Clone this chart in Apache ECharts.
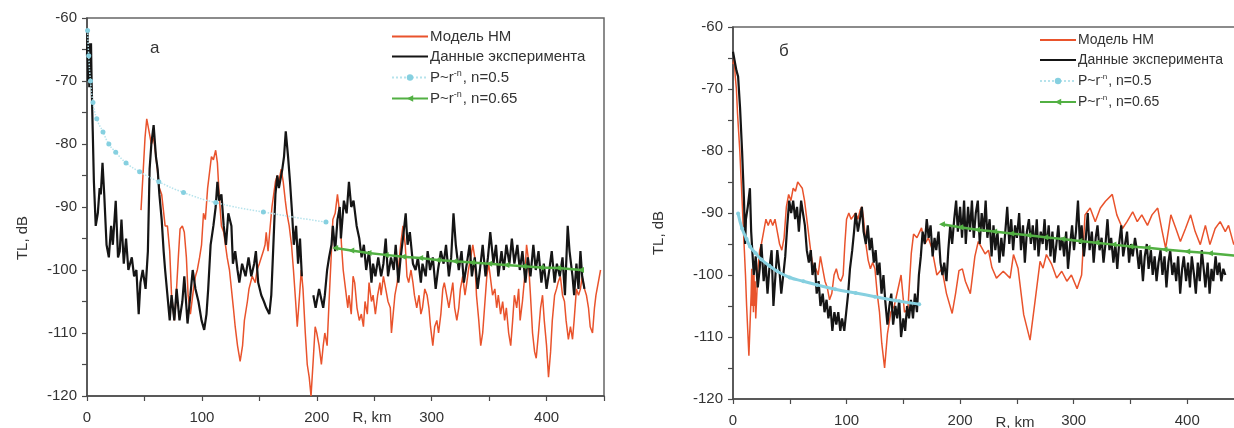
<!DOCTYPE html>
<html><head><meta charset="utf-8">
<script src="https://cdn.jsdelivr.net/npm/echarts@6/dist/echarts.min.js"></script>
<style>html,body{margin:0;padding:0;background:#fff;overflow:hidden}#c{width:1250px;height:428px}</style>
</head><body><div id="c"></div>
<script>
// ---------- Panel "а" ----------
const leftModelR = [47,49,50.5,52,54,56,58,60,63,65,68,70,72,73.6,76,77,79.5,81,83,84.7,86.5,88,90,92.7,94.4,96,98,99.7,101.4,103,105,107,108.3,110,112,113.5,115,117,119,120.5,122,124,125.7,127.4,129,131,133.3,135.4,137,139.6,141,143.8,146.5,148,150,151.7,153.5,155,156,157.6,159,161,162.5,164,165.6,167,169,170.8,172.6,174,176,178,179.7,181.6,183,185,186.5,188,190,191.7,193.4,195,197,198.6,200,202,204,205.6,207,209,210.7,212.5,214,216,218,220,221.5,223,225,227,228,230,231.6,233,235,237,238.8,240.6,242,244,245.5,247.6,249,251,253,255,256,258,260,262,264,265,266,268,270,271.5,273,275,277,278.5,280,282,283.7,285,287,289,290.6,292,294,296,297.6,299,301,302.6,304.5,306,308,309.7,311,313,315,316.7,318.4,320,321.9,323.6,325,327,329,330.6,332,334,335.8,337.5,339,341,342.7,344.4,346,348,349.6,351,353,355,356.6,358,360,361.8,363.5,365,367,368.8,370.5,372,374,375.7,377,379,381,382.6,384,386,387.8,389.6,391,393,394.8,396.5,398,400,401.7,403.5,405,407,408.7,410,412,413.9,415.6,417,419,420.8,422.6,424,426,427.8,429.5,431,433,434.7,436.5,438,440,441.7,443,445,447];
const leftModelTL = [-90.5,-84,-79,-76,-78,-80,-79,-82,-87,-88,-93,-93,-97,-104,-108,-106,-98,-93.5,-93,-94,-98,-104,-107,-103,-101,-100,-98,-96,-91,-92,-87,-84,-82,-82.5,-81,-83,-88,-93,-94,-96,-98,-100,-103,-106,-109,-112,-114.5,-112,-108,-105,-103,-101,-102,-100,-99,-99,-97,-96,-94,-97,-94,-90,-88,-86,-85,-86,-84,-86,-89,-91,-93,-96,-100,-105,-109,-104,-100,-103,-110,-115,-117,-120,-114,-109,-110,-112,-115,-112,-110,-112,-105,-98,-92,-91,-88,-91,-96,-100,-103,-106,-104,-107,-101,-102,-106,-108,-107,-109,-105,-107,-102,-105,-104,-107,-104,-102,-104,-101,-103,-105,-106,-110,-108,-104,-102,-99,-96,-93,-96,-101,-102,-100,-102,-104,-106,-104,-107,-106,-103,-104,-106,-109,-112,-109,-108,-110,-107,-103,-102,-104,-106,-104,-102,-106,-108,-106,-103,-101,-104,-102,-100,-98,-96,-98,-104,-108,-112,-110,-106,-101,-99,-101,-104,-103,-106,-104,-107,-105,-108,-106,-110,-112,-108,-104,-106,-103,-108,-105,-101,-96,-98,-104,-110,-113,-114,-110,-106,-104,-108,-112,-117,-113,-108,-104,-103,-102,-101,-104,-105,-108,-111,-109,-111,-108,-103,-104,-103,-101,-103,-104,-106,-109,-110,-106,-104,-102,-100];

const leftExpR = [0,0.5,1,1.5,2,2.5,3,3.5,4,5,6,7.6,9.4,11,12,13.5,15,17,19,21,22.5,25,27,28.5,30,32,34,36,39,41,43,45,46.5,48.5,51,53,54.5,56,58,60,61.5,63,65,66.7,68,70,72,73.6,76,78,80.5,83,84.7,87.5,90,92,94.4,97,99.7,102,104,105.5,107.6,110,112,113.5,115,117,119,121,123,125.7,127,129,131,132.6,135,138,140.6,143,145.5,147,149,151.7,154,156,158.7,160.4,162,164,165.6,167,170,171.5,173,175,176.7,178.5,180,182,183.7,185.4,187,192,197,199,202,205.6,207,209,210.7,212.8,214,216,218,220,221,223.6,226,228,230,232,234.7,237,239,241,243,245.5,247.6,249,251,253.5,256,258,260,262,264.6,267,268.7,271,273,275,277.4,279,281,283.7,286,288,290.6,292,294.8,296.5,298.6,301,303.5,305.5,308,310.4,312.5,315,317,319,321,323.6,326,328,330.6,333,335,337.5,340,342,344.4,346.9,349,351,353.8,356,358,360.8,362.8,365,367.7,369.8,372,374.6,376.7,379,381.6,383.7,386,388.5,390.6,393,395.5,397.6,400,402.4,404.5,407,409,411.5,413.9,416,418.4,420,422.6,424,426,427.8,429.5,431,433];
const leftExpTL = [-66,-62,-70,-64,-71,-66,-69,-64,-70,-78,-86,-93,-91,-87,-88,-83,-88,-96,-98,-93,-96,-89,-98,-97,-92,-99,-95,-100,-98,-101,-100,-107,-102,-100,-103,-97,-84,-80,-77,-82,-84,-88,-92,-97,-100,-104,-108,-104,-108,-103,-108,-105,-101,-108.5,-104,-100,-103,-105,-108,-109.5,-107,-103,-96,-93,-90,-86,-89,-88,-93,-96,-91,-93,-99,-97,-100,-102,-99,-101,-98,-101,-99,-97,-102,-104,-105,-106,-107,-104,-97,-88,-85,-87,-84,-82,-78,-82,-86,-91,-96,-93,-99,-95,-101,null,-104,-106,-103,-106,-104,-100,-98,-96,-93,-97,-92,-90,-95,-89,-91,-86,-90,-89,-93,-95,-98,-96,-100,-97,-102,-99,-101,-98,-101,-99,-95,-101,-98,-100,-96,-102,-98,-95,-91,-96,-94,-99,-100,-98,-102,-99,-101,-97,-100,-98,-103,-100,-97,-99,-96,-101,-98,-91,-96,-100,-97,-102,-99,-96,-101,-98,-103,-100,-96,-101,-98,-94,-99,-96,-101,-97,-100,-96,-99,-95,-99,-96,-100,-97,-102,-98,-101,-96,-100,-97,-102,-99,-103,-100,-97,-102,-99,-101,-98,-104,-93,-97,-101,-104,-99,-103,-97,-101,-103];

const leftFit05R  = [0.5,1.5,3,5.2,8.5,13.9,19,25,34,45.8,62.5,84,112,153.5,208];
const leftFit05TL = [-62,-66,-70,-73.4,-76,-78.1,-80,-81.3,-83,-84.4,-86,-87.7,-89.3,-90.8,-92.4];

const leftFit065R  = [216,230,245,260,275,290,305,320,335,350,365,380,395,410,430];
const leftFit065TL = [-96.5,-96.9,-97.3,-97.6,-97.9,-98.1,-98.4,-98.6,-98.8,-99.0,-99.2,-99.4,-99.6,-99.7,-100.0];

// ---------- Panel "б" ----------
const rightModelR = [0,1,2,3,4,5,6,7,8,9,10,11,12,13,14,15,16,16.5,17,17.5,18,18.5,19,19.5,20,21,22,23.5,25,27,29,31,33,35,37,39,41,43,45,47,49,51,53,55,57,59,61,63,65,67,69,71,73,75,77,79,81,83,85,87,89,91,93,95,97,98.5,100,102,104,106,108,110,112,113.5,115,117,119,121,123,125,127,129,131,133.5,136,139,142,145,148,151,154,157,159,162,166,169,172,175,179.5,184,188,193,196,199,202,204.6,209,213,216,219,222,225,228,232,238,244,247,251,256,261.6,266,270.4,273,276,280.7,285,289.5,294,298,303,307,310,314.5,319,323.5,328,334,338,343,347,352,356,360,365,369,374,378,381,385.6,390,394,398.5,403,407,411.5,416,420,424.6,429,433.5,436.4,441,445,450];
const rightModelTL = [-66,-65,-68,-70,-74,-77,-80,-84,-88,-92,-96,-100,-105,-109,-113,-108,-103,-99,-105,-100,-106,-100,-105,-101,-107,-103,-99,-96,-95,-93,-91,-92,-91,-92,-91,-93,-95,-96,-94,-89,-87,-88,-86,-86.5,-85,-85.5,-86,-88,-91,-94,-97,-99,-99,-100,-97,-99,-101,-102,-104,-103,-100,-99,-100.5,-101,-100,-95,-91,-90,-91,-90.5,-90,-91,-89.5,-89,-91,-95,-97.6,-99,-98,-99,-103,-106,-111,-115,-109.5,-106,-105,-102.5,-100,-106,-105.5,-96.5,-93.4,-94,-92.4,-95,-94,-95.6,-100,-99,-103,-106.2,-103,-99.3,-99,-101,-103,-97,-94.6,-95.6,-96.6,-96,-98.8,-100.5,-99.4,-100.5,-96.7,-98.9,-106.4,-110.5,-104.2,-97.8,-98.9,-96.7,-98.3,-100.5,-99.4,-101,-100,-102.2,-100,-90.3,-89.2,-91.4,-89.2,-88.1,-87,-90.3,-92.5,-91.4,-89.8,-91.4,-90.3,-92,-90.3,-89.2,-93,-95.7,-90.3,-92.5,-94.6,-92.5,-90.3,-93,-95.1,-92,-95.1,-92.5,-91.4,-93,-92,-95.1,-93,-94];

const rightExpR = [0,1,2,3,4.5,6.2,8,9.7,10.7,11.4,13,14.9,16,17.3,18.3,20,21.8,23.5,25,27,28.7,30.4,32,34,35.6,37.4,39,40.8,42.5,44.3,46,47.8,49.5,51.2,53,54.7,56.4,58,60,61.6,63.3,65,66.8,68.5,70,72,73.7,75.4,77,79,80.6,82.4,84,85.8,87.5,89.3,91,92.7,94.5,96,98,99.7,101.4,103,105,106.6,108,110,111.8,113.5,115,117,118.7,120.4,122,124,125.6,127.3,129,130.8,132.5,134,136,137.7,139.4,141,143,144.6,146.4,148,150,151.6,153.3,155,156.7,158.5,160.2,162,163.7,165.4,167,168.9,170.6,172.3,174,175.8,177.5,179,181,182.7,184.4,186,188,189.6,191.3,193,194.8,196.5,198,200,201.7,203.5,205,207,208.7,210.4,212,213.8,215.6,217.3,219,220.8,222.5,224,226,227.7,229.4,231,232.9,234.6,236.3,238,239.8,241.5,243.3,245,246.7,248.4,250,252,253.6,255.4,257,258.8,260.6,262.3,264,265.7,267.5,269,271,272.7,274.4,276,278,279.6,281.3,283,284.8,286.5,288,290,291.6,293.4,295,296.9,298.6,300.3,302,303.8,305.5,307,309,310.7,312.4,314,316,317.6,319.4,321,322.8,324.6,326.3,328,329.8,331.5,333,335,336.7,338.4,340,341.9,343.6,345.3,347,348.8,350.5,352,354,355.7,357.4,359,361,362.6,364.4,366,368,369.6,371.3,373,374.7,376.5,378.2,380,381.7,383.4,385,386.9,388.6,390.3,392,393.8,395.5,397,399,400.7,402.4,404,406,407.6,409.3,411,412.8,414.5,416,418,419.7,421.4,423,425,426.6,428.3,430,431.8,433.6];
const rightExpTL = [-64,-65,-66,-67,-68,-73,-80,-88,-95,-91,-89,-86,-93,-97,-100,-97,-102,-99,-95,-101,-98,-103,-99,-96,-105,-100,-96,-99,-103,-100,-97,-92,-88,-90,-88,-91,-89,-93,-88,-90,-92,-96,-98,-96,-100,-98,-103,-101,-105,-103,-106,-104,-107,-105,-109,-106,-108,-106,-109,-107,-109,-106,-103,-99,-96,-93,-90,-93,-91,-89,-93,-95,-92,-96,-94,-98,-96,-100,-98,-103,-100,-104,-108,-105,-103,-108,-105,-107,-104,-110,-107,-109,-105,-107,-104,-107,-103,-106,-100,-97,-93,-95,-91,-94,-92,-97,-94,-96,-93,-98,-100,-98,-101,-96,-92,-95,-91,-88,-93,-89,-94,-88,-95,-89,-93,-88,-94,-90,-88,-95,-90,-93,-88,-94,-91,-97,-92,-96,-93,-98,-94,-97,-93,-89,-95,-91,-96,-92,-94,-90,-96,-92,-98,-93,-91,-95,-92,-96,-91,-97,-93,-95,-91,-96,-92,-97,-93,-98,-95,-92,-96,-94,-97,-93,-99,-95,-92,-96,-93,-88,-95,-92,-97,-94,-90,-96,-93,-98,-94,-92,-96,-94,-98,-95,-91,-96,-94,-98,-95,-99,-95,-92,-97,-95,-93,-98,-95,-97,-94,-96,-99,-96,-101,-97,-95,-99,-96,-100,-97,-101,-98,-96,-100,-97,-102,-98,-96,-100,-98,-101,-97,-103,-99,-97,-101,-98,-102,-97,-100,-103,-98,-101,-96,-99,-102,-98,-103,-99,-101,-97,-100,-98,-101,-99,-100];

const rightFit05R  = [4.5,8,12,15,20,25,32,39,50,62,74,90,108,125,143,164];
const rightFit05TL = [-90.1,-92.5,-94.2,-95.4,-96.5,-97.5,-98.5,-99.4,-100.4,-101,-101.6,-102.3,-102.9,-103.5,-104.1,-104.7];

const rightFit065R  = [184,200,215,230,245,260,275,290,305,320,335,350,365,380,400,420,450];
const rightFit065TL = [-91.8,-92.3,-92.7,-93.0,-93.3,-93.6,-93.9,-94.2,-94.5,-94.8,-95.1,-95.4,-95.6,-95.9,-96.2,-96.5,-97.0];

const seriesNames = ['Модель НМ','Данные эксперимента','P~r^-n, n=0.5','P~r^-n, n=0.65'];
const xTickStep = 50, yTickStep = 5;

// ---------- build ----------
const zip = (r, t) => r.map((x, i) => [x, t[i] === null ? '-' : t[i]]);
const FONT = '"Liberation Sans", Arial, sans-serif';
const axisCol = '#4a4a4a';
const RED = '#e9532c', BLACK = '#151515', CYAN = '#86d0e0', GREEN = '#52b043';

function xAx(g){ return {type:'value', gridIndex:g, min:0, max:450, interval:xTickStep,
  axisLine:{lineStyle:{color:axisCol,width:1.5}}, axisTick:{length:5,lineStyle:{color:axisCol,width:1.2}},
  axisLabel:{formatter:v=> v%100===0 ? String(v) : '', margin:14, fontSize:15, color:'#333', fontFamily:FONT},
  splitLine:{show:false}}; }
function yAx(g){ return {type:'value', gridIndex:g, min:-120, max:-60, interval:yTickStep,
  axisLine:{onZero:false,lineStyle:{color:axisCol,width:1.5}}, axisTick:{length:5,lineStyle:{color:axisCol,width:1.2}},
  axisLabel:{formatter:v=> v%10===0 ? String(v) : '', margin:10, fontSize:15, color:'#333', fontFamily:FONT},
  splitLine:{show:false}}; }

function legendFmt(name){
  if (name.indexOf('P~r') === 0) {
    const rest = name.split(',')[1];
    return '{b|P~r}{s|-n}{b|,' + rest + '}';
  }
  return '{b|' + name + '}';
}
function legend(left, top, fs, gap){
  return {left:left, top:top, orient:'vertical', itemWidth:36, itemHeight:8, itemGap:gap,
    data:seriesNames.map((n,i)=> i<2 ? {name:n, itemStyle:{opacity:0}} : {name:n}),
    selectedMode:false, formatter:legendFmt,
    textStyle:{fontFamily:FONT, color:'#333', fontSize:fs, padding:[0,0,0,-3],
      rich:{b:{fontSize:fs, fontFamily:FONT, color:'#333'}, s:{fontSize:Math.round(fs*0.6), fontFamily:FONT, color:'#333', verticalAlign:'top', padding:[0,1,8,0]}}}};
}

const option = {
  animation:false, backgroundColor:'#fff',
  grid:[{left:87, top:18, width:517, height:378, show:true, borderColor:'#666', borderWidth:1.5, backgroundColor:'transparent'},
        {left:733, top:27, width:511, height:373, show:true, borderColor:'#666', borderWidth:1.5, backgroundColor:'transparent'}],
  xAxis:[xAx(0), xAx(1)],
  yAxis:[yAx(0), yAx(1)],
  legend:[legend(386, 24, 15, 5), legend(1034, 28, 14, 6)],
  series:[
    {name:seriesNames[0], type:'line', xAxisIndex:0, yAxisIndex:0, data:zip(leftModelR,leftModelTL), symbol:'none', lineStyle:{color:RED,width:1.5}, itemStyle:{color:RED}},
    {name:seriesNames[1], type:'line', xAxisIndex:0, yAxisIndex:0, data:zip(leftExpR,leftExpTL), symbol:'none', lineStyle:{color:BLACK,width:2.2}, itemStyle:{color:BLACK}},
    {name:seriesNames[2], type:'line', xAxisIndex:0, yAxisIndex:0, data:zip(leftFit05R,leftFit05TL), symbol:'circle', symbolSize:5, smooth:true, lineStyle:{color:'#b6e3ec',width:1.5,type:'dotted'}, itemStyle:{color:CYAN}},
    {name:seriesNames[3], type:'line', xAxisIndex:0, yAxisIndex:0, data:zip(leftFit065R,leftFit065TL), symbol:'triangle', symbolRotate:90, symbolSize:6, lineStyle:{color:GREEN,width:2.5}, itemStyle:{color:GREEN}},
    {name:seriesNames[0], type:'line', xAxisIndex:1, yAxisIndex:1, data:zip(rightModelR,rightModelTL), symbol:'none', lineStyle:{color:RED,width:1.5}, itemStyle:{color:RED}},
    {name:seriesNames[1], type:'line', xAxisIndex:1, yAxisIndex:1, data:zip(rightExpR,rightExpTL), symbol:'none', lineStyle:{color:BLACK,width:2.2}, itemStyle:{color:BLACK}},
    {name:seriesNames[2], type:'line', xAxisIndex:1, yAxisIndex:1, data:zip(rightFit05R,rightFit05TL), symbol:'circle', symbolSize:4, smooth:true, lineStyle:{color:CYAN,width:3}, itemStyle:{color:CYAN}},
    {name:seriesNames[3], type:'line', xAxisIndex:1, yAxisIndex:1, data:zip(rightFit065R,rightFit065TL), symbol:'triangle', symbolRotate:90, symbolSize:6, lineStyle:{color:GREEN,width:2.5}, itemStyle:{color:GREEN}}
  ],
  graphic:[
    {type:'text', left:150, top:40, style:{text:'а', font:'17px '+FONT, fill:'#333'}},
    {type:'text', left:779, top:43, style:{text:'б', font:'17px '+FONT, fill:'#333'}},
    {type:'text', x:23, y:238, rotation:Math.PI/2, style:{text:'TL, dB', font:'15px '+FONT, fill:'#333', align:'center', verticalAlign:'middle'}},
    {type:'text', x:659, y:233, rotation:Math.PI/2, style:{text:'TL, dB', font:'15px '+FONT, fill:'#333', align:'center', verticalAlign:'middle'}},
    {type:'text', x:372, y:418, style:{text:'R, km', font:'15px '+FONT, fill:'#333', align:'center', verticalAlign:'middle'}},
    {type:'text', x:1015, y:423, style:{text:'R, km', font:'15px '+FONT, fill:'#333', align:'center', verticalAlign:'middle'}}
  ]
};
const chart = echarts.init(document.getElementById('c'), null, {renderer:'canvas'});
chart.setOption(option);
</script></body></html>
